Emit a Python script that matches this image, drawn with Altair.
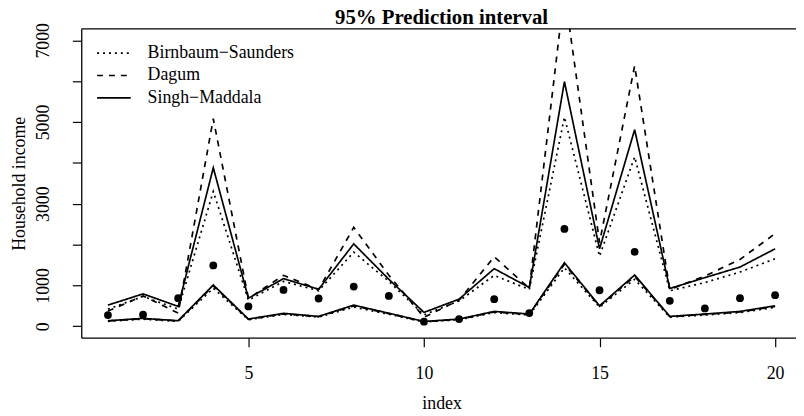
import altair as alt
import pandas as pd

# ---- data ----
index = list(range(1, 21))
observed = [275, 282, 688, 1490, 486, 890, 680, 972, 744, 112,
            177, 664, 323, 2382, 882, 1823, 622, 437, 688, 761]

bs_lower = [120, 175, 120, 930, 160, 290, 225, 470, 295, 105,
            160, 335, 275, 1430, 470, 1150, 225, 275, 335, 465]
bs_upper = [420, 730, 420, 3300, 640, 1100, 870, 1814, 1100, 280,
            620, 1247, 900, 5120, 1716, 4147, 870, 1070, 1327, 1653]

dag_lower = [130, 185, 130, 990, 170, 305, 235, 500, 310, 110,
             170, 350, 290, 1520, 490, 1220, 235, 290, 350, 485]
dag_upper = [372, 744, 323, 5080, 680, 1247, 900, 2421, 1250, 220,
             640, 1700, 930, 8200, 2050, 6376, 900, 1230, 1636, 2268]

sm_lower = [136, 194, 136, 1011, 177, 316, 243, 518, 320, 117,
            177, 364, 299, 1555, 501, 1254, 243, 299, 364, 501]
sm_upper = [518, 793, 486, 3880, 688, 1166, 906, 2017, 1150, 340,
            664, 1410, 948, 5987, 1896, 4813, 924, 1191, 1450, 1896]

models = ["Birnbaum\u2212Saunders", "Dagum", "Singh\u2212Maddala"]
dashes = [[2, 4], [6, 6], [1, 0]]
x_ticks = [5, 10, 15, 20]
y_ticks = [0, 1000, 2000, 3000, 4000, 5000, 6000, 7000]
y_labelled = [0, 1000, 3000, 5000, 7000]
title_text = "95% Prediction interval"

# ---- tables ----
rows = []
for model, lo, up in zip(models, [bs_lower, dag_lower, sm_lower],
                         [bs_upper, dag_upper, sm_upper]):
    for i, l, u in zip(index, lo, up):
        rows.append({"index": i, "value": l, "model": model, "series": model + " lower"})
        rows.append({"index": i, "value": u, "model": model, "series": model + " upper"})
lines_df = pd.DataFrame(rows)
obs_df = pd.DataFrame({"index": index, "value": observed})
one = pd.DataFrame({"a": [0]})

W, H = 722, 312
FONT = "Liberation Serif"
LW = 1.7

x_scale = alt.Scale(domain=[0.24, 20.595], nice=False, zero=False)
y_scale = alt.Scale(domain=[-280, 7280], nice=False, zero=False)

x_axis = alt.Axis(
    values=x_ticks, title="index", grid=False, tickSize=9, labelPadding=32,
    labelBaseline="alphabetic", labelFont=FONT, labelFontSize=18, labelFlush=False,
    titleFont=FONT, titleFontSize=18, titleFontWeight="normal",
    titleX=364, titleY=72, titleBaseline="alphabetic", titleAlign="center",
    domainColor="black", domainWidth=1.3, tickColor="black", tickWidth=1.2,
    labelColor="black", titleColor="black",
)
y_axis = alt.Axis(
    values=y_ticks, format="d", title="Household income", grid=False,
    labelExpr="indexof(" + str(y_labelled) + ", datum.value) >= 0 ? datum.label : ''",
    labelAngle=270, labelAlign="center", labelBaseline="alphabetic",
    labelPadding=24, tickSize=9, labelOverlap=False, labelFlush=False,
    labelFont=FONT, labelFontSize=18,
    titleFont=FONT, titleFontSize=18, titleFontWeight="normal",
    titleAngle=270, titleX=-57, titleY=H / 2, titleBaseline="alphabetic",
    titleAlign="center",
    domainColor="black", domainWidth=1.3, tickColor="black", tickWidth=1.2,
    labelColor="black", titleColor="black",
)

lines = alt.Chart(lines_df).mark_line(clip=True, strokeWidth=LW, color="black").encode(
    x=alt.X("index:Q", scale=x_scale, axis=x_axis),
    y=alt.Y("value:Q", scale=y_scale, axis=y_axis),
    strokeDash=alt.StrokeDash("model:N", scale=alt.Scale(domain=models, range=dashes), legend=None),
    detail="series:N",
)

points = alt.Chart(obs_df).mark_circle(size=62, color="black", opacity=1, clip=True).encode(
    x=alt.X("index:Q", scale=x_scale),
    y=alt.Y("value:Q", scale=y_scale),
)

top_border = alt.Chart(one).mark_rule(color="black", strokeWidth=1.3).encode(
    x=alt.value(0), x2=alt.value(W), y=alt.value(0)
)

legend_layers = []
for k, (m, d) in enumerate(zip(models, dashes)):
    yk = 24.5 + k * 22.6
    legend_layers.append(
        alt.Chart(one).mark_rule(color="black", strokeWidth=LW, strokeDash=d).encode(
            x=alt.value(16), x2=alt.value(50), y=alt.value(yk)
        )
    )
    legend_layers.append(
        alt.Chart(one).mark_text(align="left", baseline="middle", font=FONT,
                                 fontSize=18, color="black").encode(
            x=alt.value(67), y=alt.value(yk), text=alt.value(m)
        )
    )

title = alt.Chart(one).mark_text(align="center", baseline="alphabetic", font=FONT,
                                 fontSize=21, fontWeight="bold", color="black").encode(
    x=alt.value(364), y=alt.value(-4.8), text=alt.value(title_text)
)

chart = alt.layer(lines, points, top_border, *legend_layers, title).properties(
    width=W, height=H,
    autosize=alt.AutoSizeParams(type="none"),
    padding={"left": 74, "top": 19, "right": 0, "bottom": 77},
).configure_view(strokeWidth=0)

chart.save("out.html", embed_options={"renderer": "svg", "actions": False})
